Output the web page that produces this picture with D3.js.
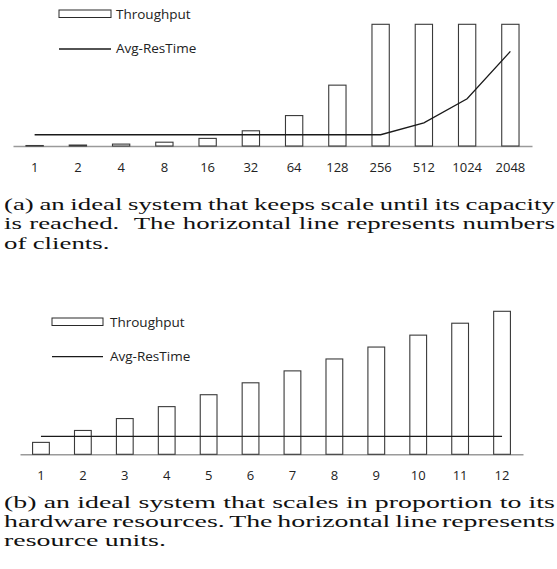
<!DOCTYPE html>
<html>
<head>
<meta charset="utf-8">
<script src="https://cdn.jsdelivr.net/npm/d3@7"></script>
<style>
  html, body { margin: 0; padding: 0; background: #fff; }
  svg { display: block; }
</style>
</head>
<body>
<svg id="chart" width="557" height="569"></svg>
<script>
// ---- data ----
const catsA = ["1","2","4","8","16","32","64","128","256","512","1024","2048"];
const throughputA = [1,2,4,8,16,32,64,128,256,256,256,256];
const resTimeA = [1,1,1,1,1,1,1,1,1,2.06,4.19,8.4];

const catsB = ["1","2","3","4","5","6","7","8","9","10","11","12"];
const throughputB = [1,2,3,4,5,6,7,8,9,10,11,12];
const resTimeB = [1.5,1.5,1.5,1.5,1.5,1.5,1.5,1.5,1.5,1.5,1.5,1.5];

const legendLabels = ["Throughput", "Avg-ResTime"];

const captionA = [
  "(a) an ideal system that keeps scale until its capacity",
  "is reached.  The horizontal line represents numbers",
  "of clients."
];
const captionB = [
  "(b) an ideal system that scales in proportion to its",
  "hardware resources. The horizontal line represents",
  "resource units."
];

const svg = d3.select("#chart");
const sansFont = "'Open Sans', sans-serif";
const serifFont = "'Liberation Serif', 'Times New Roman', serif";

function measure(str) {
  const t = svg.append("text").attr("font-family", serifFont).attr("font-size", 17)
    .style("white-space", "pre").text(str);
  const w = t.node().getComputedTextLength();
  t.remove();
  return w;
}

function panel(cfg) {
  const g = svg.append("g");
  const x = d3.scaleBand().domain(cfg.cats).range(cfg.xRange)
    .paddingInner(0.6).paddingOuter(0.3);
  const y = d3.scaleLinear().domain(cfg.yDomain).range([cfg.base, cfg.top]);
  const yr = d3.scaleLinear().domain(cfg.rDomain).range([cfg.base, cfg.top]);

  // axis
  const axis = d3.axisBottom(x).tickSize(0).tickPadding(16.8);
  const ax = g.append("g").attr("transform", `translate(0,${cfg.base})`).call(axis);
  ax.select(".domain").attr("stroke", "#9a9a9a").attr("stroke-width", 1.6);
  ax.selectAll("text").attr("font-family", sansFont).attr("font-size", 13)
    .attr("fill", "#222");

  // bars
  g.selectAll("rect.bar").data(cfg.thr).join("rect")
    .attr("class", "bar")
    .attr("x", (d, i) => x(cfg.cats[i]))
    .attr("width", x.bandwidth())
    .attr("y", d => y(d))
    .attr("height", d => cfg.base - y(d))
    .attr("fill", "#fff")
    .attr("stroke", "#3a3a3a")
    .attr("stroke-width", 1.1);

  // line
  const line = d3.line()
    .x((d, i) => x(cfg.cats[i]) + x.bandwidth() / 2)
    .y(d => yr(d));
  g.append("path").datum(cfg.res)
    .attr("d", line).attr("fill", "none")
    .attr("stroke", "#1a1a1a").attr("stroke-width", 1.3);

  // legend
  const L = cfg.legend;
  g.append("rect").attr("x", L.x0).attr("y", L.rectY)
    .attr("width", L.x1 - L.x0).attr("height", L.rectH)
    .attr("fill", "#fff").attr("stroke", "#2a2a2a").attr("stroke-width", 1);
  g.append("line").attr("x1", L.x0).attr("x2", L.x1)
    .attr("y1", L.lineY).attr("y2", L.lineY)
    .attr("stroke", "#1a1a1a").attr("stroke-width", 1.3);
  g.append("text").attr("x", L.tx).attr("y", L.t1).text(legendLabels[0])
    .attr("font-family", sansFont).attr("font-size", 13.5).attr("fill", "#222");
  g.append("text").attr("x", L.tx).attr("y", L.t2).text(legendLabels[1])
    .attr("font-family", sansFont).attr("font-size", 13.5).attr("fill", "#222");

  // caption: justified lines, slightly stretched horizontally like the reference
  const target = 551, gapRef = 6.4;
  const info = cfg.caption.map(ln => {
    const W = measure(ln);
    const letters = measure(ln.replace(/ /g, ""));
    const gaps = (ln.match(/ /g) || []).length;
    return { W, letters, gaps, space: gaps ? (W - letters) / gaps : 0 };
  });
  const just = info.slice(0, -1);
  const sx = d3.mean(just, d => (target - d.gaps * gapRef) / d.letters);
  cfg.caption.forEach((ln, i) => {
    const t = g.append("text")
      .attr("x", 0).attr("y", 0)
      .attr("transform", `translate(4,${cfg.capY + i * 19.4}) scale(${sx},1)`)
      .attr("font-family", serifFont).attr("font-size", 17)
      .attr("fill", "#111")
      .style("white-space", "pre")
      .text(ln);
    const d = info[i];
    if (i < cfg.caption.length - 1) {
      const gap = (target - d.letters * sx) / d.gaps / sx;
      t.style("word-spacing", (gap - d.space) + "px");
    } else {
      t.style("word-spacing", (gapRef / sx - d.space) + "px");
    }
  });
}

panel({
  cats: catsA, thr: throughputA, res: resTimeA,
  xRange: [13, 532], base: 146, top: 24.3,
  yDomain: [0, 256], rDomain: [0, 10.8],
  legend: { x0: 59, x1: 111, rectY: 10, rectH: 7.5, lineY: 49, tx: 116, t1: 19, t2: 53.3 },
  caption: captionA, capY: 210
});

panel({
  cats: catsB, thr: throughputB, res: resTimeB,
  xRange: [20, 523], base: 454.3, top: 311.3,
  yDomain: [0, 12], rDomain: [0, 12],
  legend: { x0: 52, x1: 103, rectY: 318, rectH: 7.5, lineY: 356.7, tx: 110, t1: 326.7, t2: 361 },
  caption: captionB, capY: 507.5
});
</script>
</body>
</html>
